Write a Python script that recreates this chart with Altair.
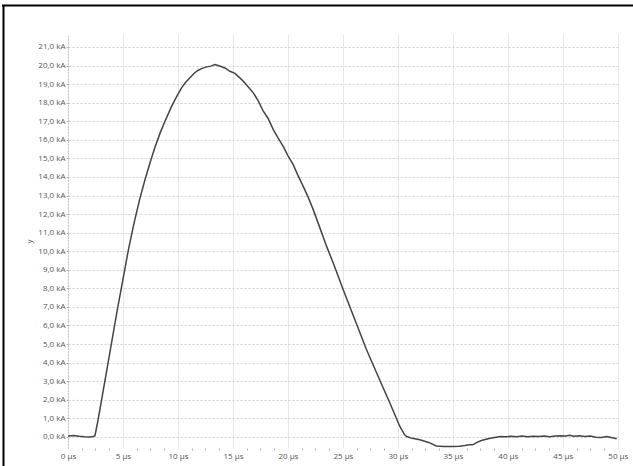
import altair as alt
import pandas as pd

# time in microseconds, current in kA
time_us = [0.0, 0.5, 1.0, 1.5, 2.0, 2.3, 2.45, 2.7, 3.0, 3.5, 4.0, 4.5, 5.0, 5.5,
           6.0, 6.5, 7.0, 7.5, 7.91, 8.4, 8.82, 9.42, 9.9, 10.33, 10.7, 11.09, 11.5,
           11.85, 12.2, 12.6, 13.0, 13.36, 13.8, 14.27, 14.73, 15.18, 15.6, 15.94,
           16.4, 16.85, 17.3, 17.76, 18.2, 18.67, 19.1, 19.57, 20.0, 20.48, 20.9,
           21.39, 21.85, 22.3, 22.9, 23.52, 24.12, 25.03, 26.09, 27.15, 28.21,
           29.27, 30.18, 30.6, 30.8, 31.3, 32.0, 32.8, 33.5, 34.2, 35.0, 35.6,
           36.1, 36.5, 36.8, 37.2, 37.6, 38.2, 38.8, 39.3, 39.8, 40.3, 40.8, 41.3,
           41.8, 42.3, 42.8, 43.3, 43.8, 44.3, 44.8, 45.3, 45.6, 46.0, 46.5, 47.0,
           47.5, 48.0, 48.5, 49.0, 49.5, 49.9]
current_ka = [0.05, 0.07, 0.03, 0.0, -0.01, 0.02, 0.06, 0.8, 1.8, 3.5, 5.2, 6.9,
              8.5, 10.1, 11.5, 12.75, 13.85, 14.85, 15.6, 16.4, 17.0, 17.8, 18.35,
              18.8, 19.1, 19.34, 19.6, 19.75, 19.85, 19.93, 19.97, 20.06, 19.98,
              19.87, 19.69, 19.58, 19.35, 19.15, 18.85, 18.53, 18.1, 17.54, 17.15,
              16.55, 16.1, 15.65, 15.15, 14.66, 14.1, 13.49, 12.9, 12.24, 11.27,
              10.26, 9.36, 7.92, 6.31, 4.69, 3.25, 1.82, 0.56, 0.12, 0.02, -0.08,
              -0.16, -0.3, -0.49, -0.52, -0.52, -0.5, -0.47, -0.42, -0.43, -0.3,
              -0.2, -0.1, -0.03, 0.02, 0.0, 0.03, 0.01, 0.04, 0.0, 0.03, 0.02, 0.05,
              0.01, 0.04, 0.06, 0.05, 0.08, 0.03, 0.06, 0.02, 0.04, -0.02, -0.03,
              0.02, -0.05, -0.1]

x_ticks = [i * 1.25 for i in range(0, 41)]
y_ticks = list(range(0, 22))

df = pd.DataFrame({"t": time_us, "i": current_ka})

FONT = "Open Sans"

line = alt.Chart(df).mark_line(color="#444444", strokeWidth=1.5, clip=True).encode(
    x=alt.X(
        "t:Q",
        scale=alt.Scale(domain=[0, 50.2], nice=False, zero=False),
        axis=alt.Axis(
            values=x_ticks,
            title=None,
            domain=False,
            grid=True,
            gridColor="#e8e8e8",
            gridWidth=1,
            gridOpacity={"condition": {"test": "datum.value % 5 === 0", "value": 1}, "value": 0},
            ticks=True,
            tickSize=2,
            tickColor="#b0b0b0",
            tickOpacity={"condition": {"test": "datum.value % 5 === 0", "value": 0}, "value": 1},
            labelExpr="datum.value % 5 === 0 ? format(datum.value, 'd') + ' µs' : ''",
            labelPadding=2,
            labelFont=FONT,
            labelFontSize=8,
            labelColor="#555555",
            labelFlush=False,
            labelOverlap=False,
        ),
    ),
    y=alt.Y(
        "i:Q",
        scale=alt.Scale(domain=[-0.6, 21.7], nice=False, zero=False),
        axis=alt.Axis(
            values=y_ticks,
            title="y",
            titleFont=FONT,
            titleFontSize=8,
            titleFontWeight="normal",
            titleColor="#555555",
            titlePadding=4,
            domain=True,
            domainColor="#a8a8a8",
            domainDash=[1, 2],
            domainWidth=1,
            grid=True,
            gridColor="#cfcfcf",
            gridDash=[2, 2],
            gridWidth=1,
            ticks=True,
            tickSize=2,
            tickColor="#b0b0b0",
            labelExpr="replace(format(datum.value, '.1f'), '.', ',') + ' kA'",
            labelPadding=1,
            labelFont=FONT,
            labelFontSize=8,
            labelColor="#555555",
            labelFlush=False,
            labelOverlap=False,
        ),
    ),
)

frame_src = alt.Data(values=[{"k": 1}])
frame_top = alt.Chart(frame_src).mark_rule(color="#000000", strokeWidth=2).encode(
    x=alt.value(-66), x2=alt.value(566), y=alt.value(-28.5)
)
frame_left = alt.Chart(frame_src).mark_rule(color="#000000", strokeWidth=2).encode(
    x=alt.value(-64.5), y=alt.value(-29), y2=alt.value(433)
)

chart = alt.layer(line, frame_top, frame_left).properties(
    width=552,
    height=414,
    padding={"left": 68, "top": 34, "right": 13, "bottom": 18},
    autosize=alt.AutoSizeParams(type="none"),
    background="#ffffff",
).configure_view(stroke=None)

chart.save("out.html", embed_options={"renderer": "svg", "actions": False})
